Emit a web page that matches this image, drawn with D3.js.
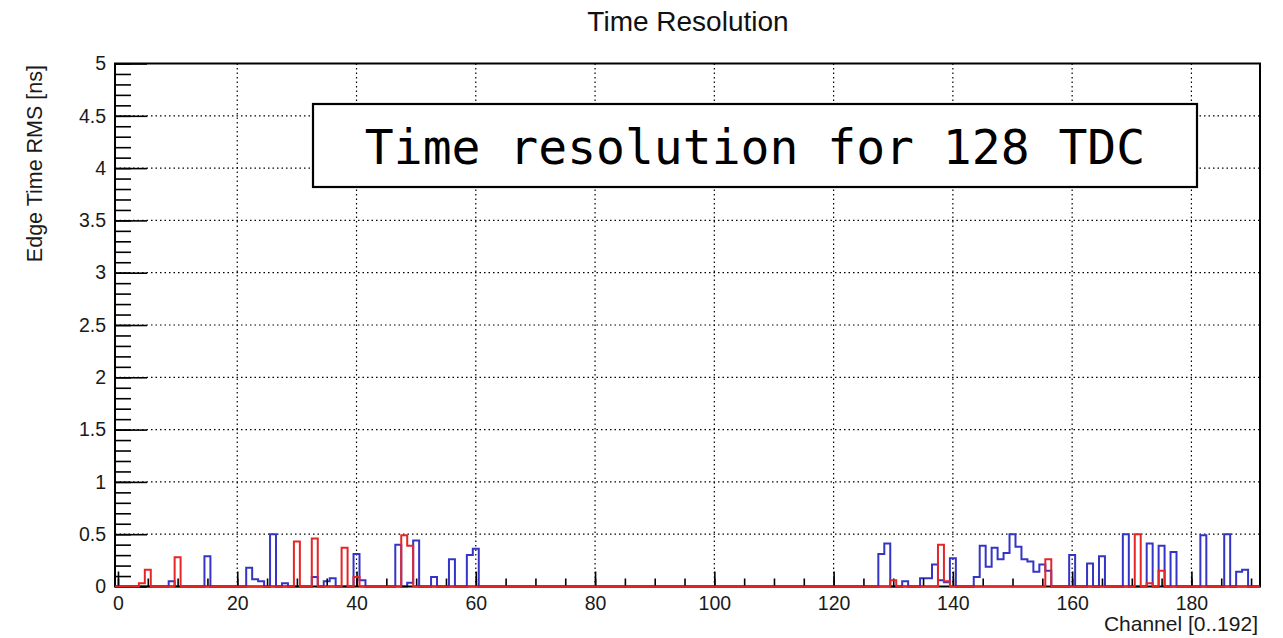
<!DOCTYPE html>
<html>
<head>
<meta charset="utf-8">
<script src="https://cdn.jsdelivr.net/npm/d3@7"></script>
<style>
  body { margin: 0; background: #fff; }
  text { font-family: "Liberation Sans", Arial, sans-serif; }
</style>
</head>
<body>
<div id="chart"></div>
<script>
/*Data: channel number and RMS value of the non-empty bins*/
var nChannels = 192;

var blueChannels = [9, 15, 22, 23, 24, 26, 28, 33, 35, 36, 40, 41, 47, 49, 50, 53, 56, 59, 60,
                    128, 129, 132, 135, 136, 137, 138, 139, 140, 144, 145, 146, 147, 148, 149, 150,
                    151, 152, 153, 154, 155, 156, 160, 163, 165, 169, 173, 175, 177, 182, 186, 188, 189];
var blueValues = [0.05, 0.29, 0.18, 0.07, 0.05, 0.50, 0.03, 0.09, 0.05, 0.08, 0.31, 0.06, 0.40, 0.035, 0.44, 0.09, 0.26, 0.30, 0.36,
                  0.31, 0.41, 0.05, 0.08, 0.08, 0.21, 0.06, 0.04, 0.27, 0.09, 0.39, 0.19, 0.37, 0.26, 0.32, 0.50,
                  0.38, 0.26, 0.24, 0.14, 0.21, 0.15, 0.30, 0.22, 0.29, 0.50, 0.41, 0.39, 0.33, 0.49, 0.50, 0.14, 0.16];

var redChannels = [4, 5, 10, 30, 33, 38, 40, 48, 49, 130, 138, 139, 156, 171, 173, 175];
var redValues = [0.03, 0.16, 0.28, 0.43, 0.46, 0.37, 0.09, 0.49, 0.39, 0.06, 0.40, 0.05, 0.26, 0.50, 0.03, 0.15];

var xTicks = [0, 20, 40, 60, 80, 100, 120, 140, 160, 180];
var yTicks = [0, 0.5, 1, 1.5, 2, 2.5, 3, 3.5, 4, 4.5, 5];

var title = "Time Resolution";
var xTitle = "Channel [0..192]";
var yTitle = "Edge Time RMS [ns]";
var boxText = "Time resolution for 128 TDC";

/*SVG Size*/
var width = 1283;
var height = 638;

/*Frame*/
var frameL = 115, frameR = 1260, frameT = 63.5, frameB = 586.5;

var svg = d3.select("#chart").append("svg")
            .attr("width", width)
            .attr("height", height);

var x = d3.scaleLinear().domain([-0.5, nChannels - 0.5]).range([frameL, frameR]);
var y = d3.scaleLinear().domain([0, 5]).range([frameB, frameT]);

/*Grid*/
var grid = svg.append("g")
              .attr("stroke", "#000")
              .attr("stroke-width", 1.2)
              .attr("stroke-dasharray", "1.5,3");
grid.selectAll(".gx").data(xTicks.slice(1))
    .enter().append("line")
    .attr("x1", d => x(d)).attr("x2", d => x(d))
    .attr("y1", frameT).attr("y2", frameB);
grid.selectAll(".gy").data(yTicks.slice(1, -1))
    .enter().append("line")
    .attr("x1", frameL).attr("x2", frameR)
    .attr("y1", d => y(d)).attr("y2", d => y(d));

/*Text box*/
svg.append("rect")
   .attr("x", 313).attr("y", 104)
   .attr("width", 884).attr("height", 83)
   .attr("fill", "#fff")
   .attr("stroke", "#000")
   .attr("stroke-width", 2.2);
svg.append("text")
   .attr("x", 755).attr("y", 164)
   .attr("text-anchor", "middle")
   .style("font-family", "'DejaVu Sans Mono', monospace")
   .style("font-size", "48px")
   .text(boxText);

/*Histograms*/
function fill(channels, values) {
  var v = d3.range(nChannels).map(() => 0);
  channels.forEach((c, i) => { v[c] = values[i]; });
  var pts = [[-0.5, 0]];
  v.forEach((d, i) => pts.push([i - 0.5, d]));
  pts.push([nChannels - 0.5, v[nChannels - 1]]);
  pts.push([nChannels - 0.5, 0]);
  return pts;
}

var line = d3.line()
             .x(d => x(d[0]))
             .y(d => y(d[1]))
             .curve(d3.curveStepAfter);

svg.append("path")
   .attr("d", line(fill(blueChannels, blueValues)))
   .attr("fill", "none")
   .attr("stroke", "#3434c6")
   .attr("stroke-width", 2);

/*Axes*/
svg.append("g")
   .attr("transform", "translate(" + frameL + ",0)")
   .call(d3.axisLeft(y).tickValues(yTicks).tickFormat(d3.format("~g"))
         .tickSizeInner(-32).tickSizeOuter(0).tickPadding(9));
svg.append("g")
   .attr("transform", "translate(" + frameL + ",0)")
   .call(d3.axisLeft(y).tickValues(d3.range(0, 51).map(d => d / 10)).tickFormat("")
         .tickSizeInner(-16).tickSizeOuter(0));

svg.append("g")
   .attr("transform", "translate(0," + frameB + ")")
   .call(d3.axisBottom(x).tickValues(xTicks).tickFormat(d3.format("d"))
         .tickSizeInner(-15).tickSizeOuter(0).tickPadding(10));
svg.append("g")
   .attr("transform", "translate(0," + frameB + ")")
   .call(d3.axisBottom(x).tickValues(d3.range(0, 191, 5)).tickFormat("")
         .tickSizeInner(-8).tickSizeOuter(0));

svg.selectAll(".domain").remove();
svg.selectAll(".tick line").attr("stroke", "#000").attr("stroke-width", 1.6);
svg.selectAll(".tick text")
   .style("font-family", "'Liberation Sans', Arial, sans-serif")
   .style("font-size", "19.5px")
   .attr("fill", "#1a1a1a");

/*Frame*/
svg.append("rect")
   .attr("x", frameL).attr("y", frameT)
   .attr("width", frameR - frameL).attr("height", frameB - frameT)
   .attr("fill", "none")
   .attr("stroke", "#000")
   .attr("stroke-width", 2);

svg.append("path")
   .attr("d", line(fill(redChannels, redValues)))
   .attr("fill", "none")
   .attr("stroke", "#e52626")
   .attr("stroke-width", 2);

/*Titles*/
svg.append("text")
   .attr("x", 688).attr("y", 31)
   .attr("text-anchor", "middle")
   .attr("fill", "#111")
   .style("font-size", "28px")
   .text(title);

svg.append("text")
   .attr("x", 1258).attr("y", 631)
   .attr("text-anchor", "end")
   .attr("fill", "#1a1a1a")
   .style("font-size", "21px")
   .text(xTitle);

svg.append("text")
   .attr("transform", "translate(42,65) rotate(-90)")
   .attr("text-anchor", "end")
   .attr("fill", "#1a1a1a")
   .style("font-size", "21.5px")
   .text(yTitle);
</script>
</body>
</html>
